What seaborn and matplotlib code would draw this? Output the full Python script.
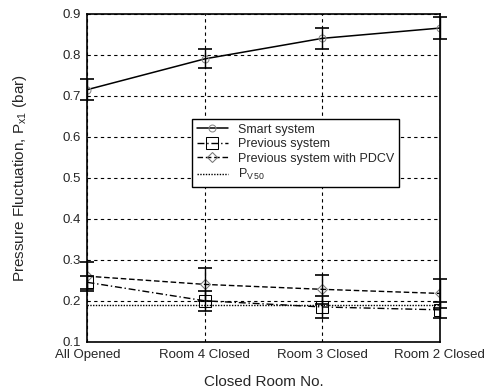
import seaborn as sns
import matplotlib.pyplot as plt
import pandas as pd

# data
rooms = ['All Opened', 'Room 4 Closed', 'Room 3 Closed', 'Room 2 Closed']
smart = [0.715, 0.79, 0.84, 0.865]
smart_err = [0.025, 0.023, 0.025, 0.027]
previous = [0.245, 0.20, 0.185, 0.178]
previous_err = [0.015, 0.025, 0.027, 0.02]
pdcv = [0.26, 0.24, 0.228, 0.218]
pdcv_err = [0.035, 0.04, 0.035, 0.035]
pv50 = [0.19, 0.19, 0.19, 0.19]

sns.set_style('white')
plt.rcParams['font.family'] = ['Liberation Sans', 'DejaVu Sans']

df = pd.DataFrame({'x': range(len(rooms)), 'smart': smart, 'previous': previous,
                   'pdcv': pdcv, 'pv50': pv50})

fig, ax = plt.subplots(figsize=(4.86, 3.92), dpi=100)

sns.lineplot(x='x', y='smart', data=df, ax=ax, color='black', lw=1.1,
             marker='o', markersize=5, markerfacecolor='none', markeredgecolor='#888888',
             label='Smart system')
sns.lineplot(x='x', y='previous', data=df, ax=ax, color='black', lw=1.0,
             linestyle=(0, (5, 2, 1, 2)), marker='s', markersize=9,
             markerfacecolor='none', markeredgecolor='black', label='Previous system')
sns.lineplot(x='x', y='pdcv', data=df, ax=ax, color='black', lw=1.0,
             linestyle=(0, (4, 2)), marker='D', markersize=5,
             markerfacecolor='none', markeredgecolor='#777777',
             label='Previous system with PDCV')
sns.lineplot(x='x', y='pv50', data=df, ax=ax, color='black', lw=1.0,
             linestyle=(0, (1, 1)), label='$\\mathregular{P_{V\\,50}}$')

for y, e in [(smart, smart_err), (previous, previous_err), (pdcv, pdcv_err)]:
    ax.errorbar(df['x'], y, yerr=e, fmt='none', ecolor='black', elinewidth=1.0,
                capsize=5, capthick=1.2, clip_on=False, zorder=5)

ax.set_xlim(0, 3)
ax.set_ylim(0.1, 0.9)
ax.set_xticks(range(len(rooms)))
ax.set_xticklabels(rooms)
ax.set_yticks([0.1, 0.2, 0.3, 0.4, 0.5, 0.6, 0.7, 0.8, 0.9])
ax.set_yticklabels(['0.1', '0.2', '0.3', '0.4', '0.5', '0.6', '0.7', '0.8', '0.9'])
ax.tick_params(labelsize=9.5, length=0, pad=5)
ax.grid(True, color='black', linestyle=(0, (3, 3)), lw=0.8)
for s in ax.spines.values():
    s.set_color('black')
    s.set_linewidth(1.2)

ax.set_xlabel('Closed Room No.', fontsize=11, labelpad=10)
ax.set_ylabel('Pressure Fluctuation, $\\mathregular{P_{x1}}$ (bar)', fontsize=11, labelpad=24)

leg = ax.legend(loc='center', bbox_to_anchor=(0.59, 0.575), fontsize=9,
                frameon=True, fancybox=False, edgecolor='black', framealpha=1,
                handlelength=2.5, borderpad=0.4, labelspacing=0.2)
leg.get_frame().set_linewidth(1.0)

plt.subplots_adjust(left=0.18, right=0.905, top=0.965, bottom=0.128)
plt.savefig('out.png', dpi=100)
